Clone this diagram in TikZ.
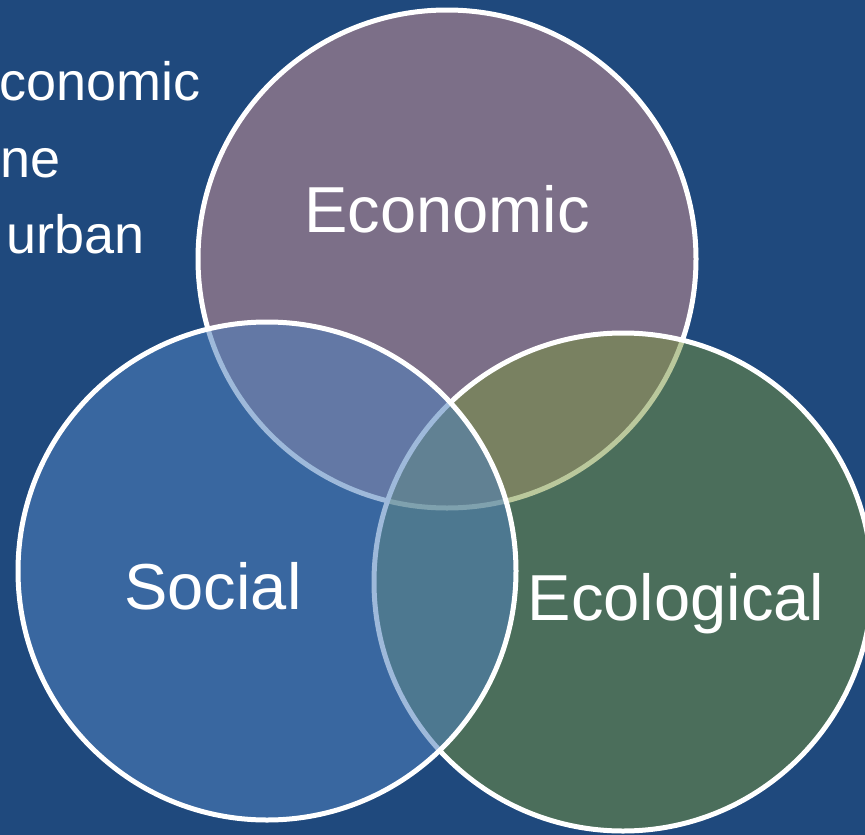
\documentclass[tikz,border=0pt]{standalone}
\usepackage{fontspec}
\setmainfont{Liberation Sans}
\usetikzlibrary{positioning}
\definecolor{slidebg}{RGB}{31,73,125}
\definecolor{econfill}{RGB}{124,111,136}
\definecolor{ecolfill}{RGB}{119,147,59}
\definecolor{socfill}{RGB}{79,129,189}
\begin{document}
\begin{tikzpicture}[x=1pt,y=-1pt,
    ring/.style={draw=white,line width=5pt,circle,minimum size=498pt,inner sep=0pt},
    biglbl/.style={text=white,font=\fontsize{65}{78}\selectfont,inner sep=0pt},
    sidelbl/.style={text=white,font=\fontsize{54}{77}\selectfont,inner sep=0pt,anchor=base east}]

        \useasboundingbox (0,0) rectangle (865,835);
        \clip (0,0) rectangle (865,835);
        \fill[slidebg] (0,0) rectangle (865,835);

        % text at the left of the slide
        \node[sidelbl]                      (t1) at (201,100)       {conomic};
        \node[sidelbl,anchor=base west]     (t2) at (0,177)         {ne};
        \node[sidelbl]                      (t3) at (145,253)       {urban};

        % the three circles, economic lowest
        \node[ring,fill=econfill]                     (econ) at (447,259)   {};
        \node[ring,fill=ecolfill,fill opacity=0.5]    (ecol) at (623,582)   {};
        \node[ring,fill=socfill,fill opacity=0.55]    (soc)  at (267,571)   {};

        \node[biglbl,anchor=base]    (econlbl) at (447,232)    {Economic};
        \node[biglbl,anchor=base]    (soclbl)  at (213,609)    {Social};
        \node[biglbl,anchor=base]    (ecollbl) at (676,620)    {Ecological};

    \end{tikzpicture}
\end{document}
